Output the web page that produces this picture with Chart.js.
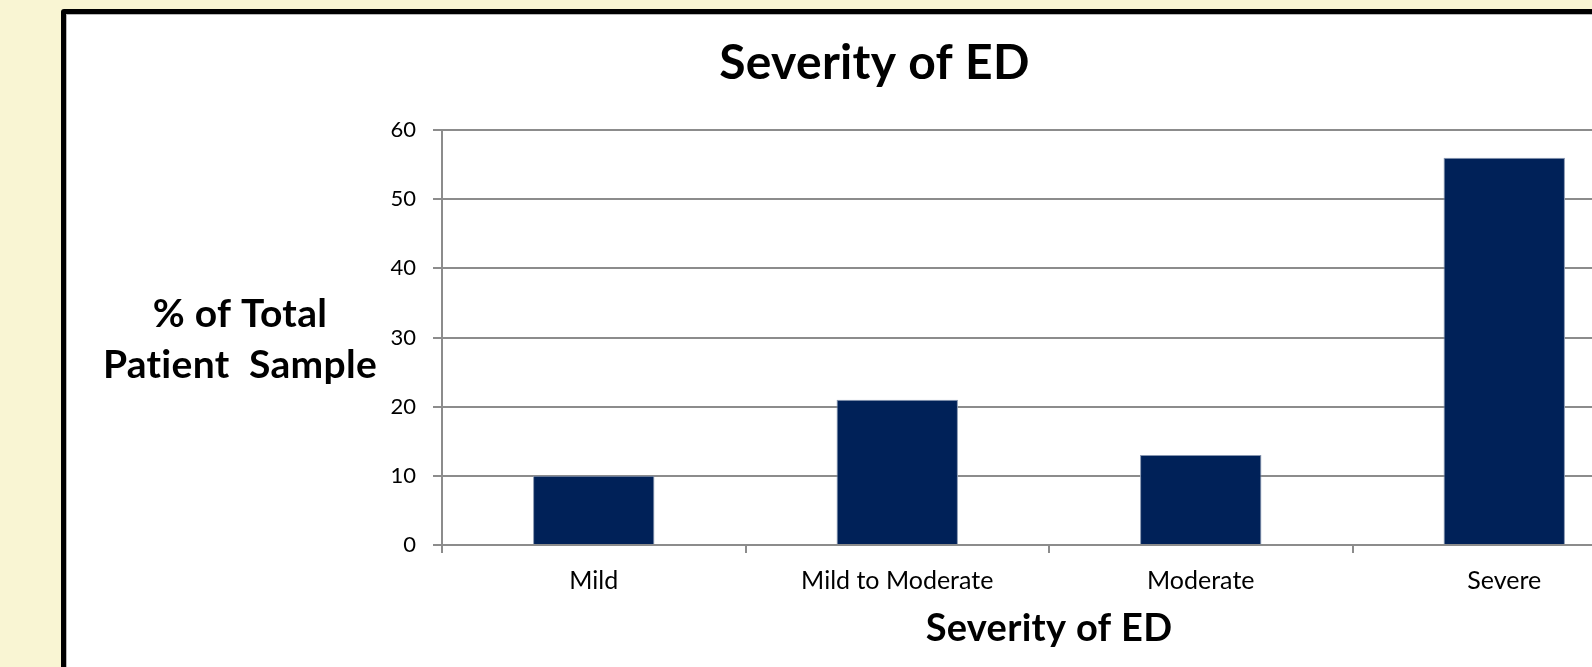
<!DOCTYPE html>
<html>
<head>
<meta charset="utf-8">
<title>Severity of ED</title>
<script src="https://cdn.jsdelivr.net/npm/chart.js@4"></script>
<style>
  html, body {
    margin: 0;
    padding: 0;
    width: 1592px;
    height: 667px;
    overflow: hidden;
    background: #F9F5D3;
  }
  #frame {
    position: absolute;
    left: 61px;
    top: 9px;
    width: 1640px;
    height: 720px;
    background: #ffffff;
    border: 5px solid #000000;
    border-radius: 3px;
    box-shadow: inset 0 0 0 1px #b8b8b8;
  }
  #chart {
    position: absolute;
    left: 66px;
    top: 14px;
  }
</style>
</head>
<body>
<div id="frame"></div>
<canvas id="chart" width="1617" height="660"></canvas>
<script>
// Share of patients by erectile dysfunction severity
const categories = ['Mild', 'Mild to Moderate', 'Moderate', 'Severe'];
const percentValues = [10, 21, 13, 56];

// Value axis range and tick spacing
const yMin = 0;
const yMax = 60;
const yStep = 10;

// Chart texts
const chartTitle = 'Severity of ED';
const xAxisTitle = 'Severity of ED';
const yAxisTitleLines = ['% of Total', 'Patient  Sample'];

const FONT = 'Lato, "Open Sans", sans-serif';
const GRID = '#8c8c8c';

// Titles drawn horizontally (the y title is not rotated)
const titlesPlugin = {
  id: 'titles',
  afterDraw(chart) {
    const ctx = chart.ctx;
    const area = chart.chartArea;
    ctx.save();
    ctx.fillStyle = '#000000';
    ctx.textAlign = 'center';
    ctx.textBaseline = 'alphabetic';
    // a tiny letter spacing keeps "ti" from turning into a ligature
    if ('letterSpacing' in ctx) ctx.letterSpacing = '0.3px';

    ctx.font = 'bold 48px ' + FONT;
    ctx.fillText(chartTitle, chart.width / 2, 65);

    ctx.font = 'bold 38px ' + FONT;
    ctx.fillText(xAxisTitle, (area.left + area.right) / 2, 627);

    ctx.font = 'bold 39px ' + FONT;
    ctx.fillText(yAxisTitleLines[0], 174, 313);
    ctx.fillText(yAxisTitleLines[1], 174, 364);
    ctx.restore();
  }
};

new Chart(document.getElementById('chart'), {
  type: 'bar',
  data: {
    labels: categories,
    datasets: [{
      data: percentValues,
      backgroundColor: '#002158',
      borderColor: '#8796b0',
      borderWidth: 1,
      borderSkipped: 'bottom',
      barPercentage: 0.4,
      categoryPercentage: 1.0
    }]
  },
  options: {
    responsive: false,
    devicePixelRatio: 1,
    animation: false,
    layout: {
      padding: { top: 116, right: 27, bottom: 0, left: 0 }
    },
    plugins: {
      legend: { display: false },
      title: { display: false },
      tooltip: { enabled: false }
    },
    scales: {
      x: {
        offset: true,
        grid: {
          offset: true,
          drawOnChartArea: false,
          drawTicks: true,
          tickLength: 8,
          color: GRID,
          lineWidth: 2
        },
        border: { display: true, color: GRID, width: 2 },
        ticks: {
          color: '#000000',
          padding: 13,
          maxRotation: 0,
          autoSkip: false,
          font: { family: FONT, size: 25 }
        },
        afterFit(scale) { scale.height = 129; }
      },
      y: {
        min: yMin,
        max: yMax,
        grid: {
          color: GRID,
          lineWidth: 2,
          drawTicks: true,
          tickLength: 9
        },
        border: { display: true, color: GRID, width: 2 },
        ticks: {
          stepSize: yStep,
          color: '#000000',
          padding: 17,
          font: { family: FONT, size: 22 }
        },
        afterFit(scale) { scale.width = 376; }
      }
    }
  },
  plugins: [titlesPlugin]
});
</script>
</body>
</html>
